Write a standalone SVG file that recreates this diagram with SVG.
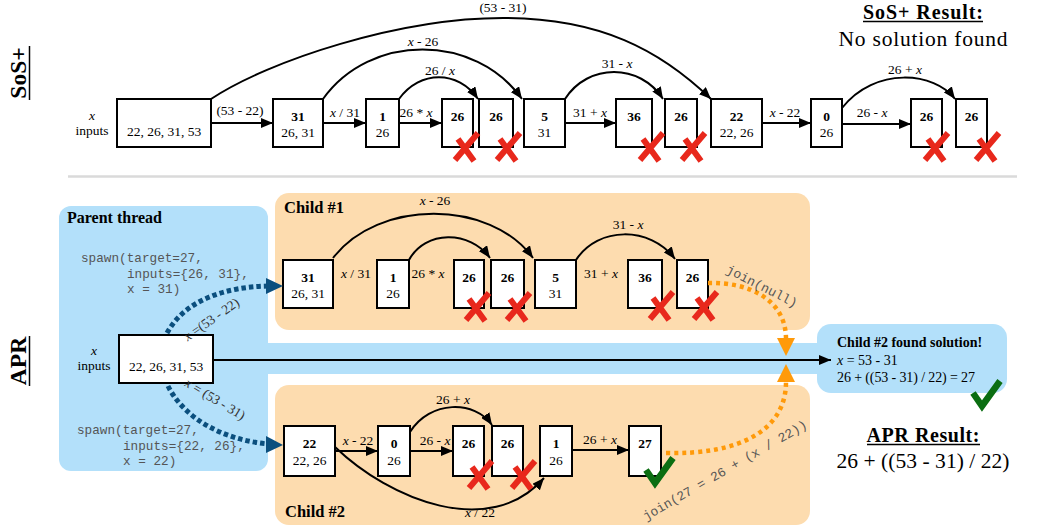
<svg xmlns="http://www.w3.org/2000/svg" width="1042" height="526" viewBox="0 0 1042 526">
<defs>
<style>
.box{fill:#fff;stroke:#000;stroke-width:2}
.t{font-family:"Liberation Serif","Times New Roman",serif;font-size:13.5px;fill:#000;text-anchor:middle}
.b{font-weight:bold}
.i{font-style:italic}
.l{text-anchor:start}
.e{fill:none;stroke:#000;stroke-width:2}
.mono{font-family:"Liberation Mono","Courier New",monospace;font-size:12.7px;fill:#555}
.xm{fill:none;stroke:#e8281c;stroke-width:6}
.ck{fill:none;stroke:#0b6e12;stroke-width:6.5}
.bd{fill:none;stroke:#0b4f7e;stroke-width:5;stroke-dasharray:4.5 3}
.od{fill:none;stroke:#ff9a0a;stroke-width:4.5;stroke-dasharray:4 4}
.blue{fill:#b3e0fa}
.peach{fill:#fddcaf}
.ul{stroke:#000;stroke-width:1.5}
.big{font-size:21.5px}
.hd{font-size:20px}
.side{font-size:23.5px}
.ch{font-size:16.5px}
.rs{font-size:14px}
.jn{font-size:13px;text-anchor:middle}
.gray{fill:#333}
</style>
<marker id="ah" markerWidth="13" markerHeight="10" refX="12" refY="5" orient="auto" markerUnits="userSpaceOnUse"><path d="M0,0 L12,5 L0,10 z" fill="#000"/></marker>
<path id="xmk" d="M-8,-8 L8,14 M12,-14 L-11,13"/>
<path id="ckm" d="M-13,-3 L-4,10 L14,-15"/>
</defs>

<!-- backgrounds -->
<g id="backgrounds">
<line x1="68" y1="176.5" x2="1017" y2="176.5" stroke="#dadada" stroke-width="2.5"/>
<rect class="blue" x="59" y="206" width="209" height="265" rx="12"/>
<rect class="blue" x="262" y="343" width="560" height="31"/>
<rect class="blue" x="817" y="324" width="190" height="69" rx="14"/>
<rect class="peach" x="275" y="193" width="535" height="137" rx="14"/>
<rect class="peach" x="275" y="385" width="535" height="140" rx="14"/>
</g>

<!-- section titles -->
<g id="titles">
<text class="t b side" transform="translate(26,73) rotate(-90)">SoS+</text>
<line class="ul" x1="29.5" y1="46" x2="29.5" y2="100"/>
<text class="t b side" transform="translate(26,361) rotate(-90)">APR</text>
<line class="ul" x1="29.5" y1="336" x2="29.5" y2="386"/>
<text class="t b hd" x="923" y="19" textLength="120" lengthAdjust="spacing">SoS+ Result:</text>
<line class="ul" x1="863" y1="21.5" x2="983" y2="21.5"/>
<text class="t big" x="923" y="46" textLength="169" lengthAdjust="spacing">No solution found</text>
<text class="t b hd" x="923" y="442" textLength="113" lengthAdjust="spacing">APR Result:</text>
<line class="ul" x1="867" y1="444.5" x2="980" y2="444.5"/>
<text class="t big" x="923" y="468" textLength="173" lengthAdjust="spacing">26 + ((53 - 31) / 22)</text>
</g>

<!-- SoS+ nodes -->
<g id="sos-inputs"><rect class="box" x="117" y="99" width="94" height="48"/><text class="t i" x="92" y="120">x</text><text class="t" x="92" y="135">inputs</text><text class="t" x="164" y="136">22, 26, 31, 53</text></g>
<g id="sos-31"><rect class="box" x="273" y="99" width="50" height="48"/><text class="t b" x="298" y="121">31</text><text class="t" x="298" y="137">26, 31</text></g>
<g id="sos-1"><rect class="box" x="366" y="99" width="33" height="48"/><text class="t b" x="382.5" y="121">1</text><text class="t" x="382.5" y="137">26</text></g>
<g id="sos-26a"><rect class="box" x="442" y="99" width="31" height="48"/><text class="t b" x="457.5" y="121">26</text></g>
<g id="sos-26b"><rect class="box" x="479" y="99" width="34" height="48"/><text class="t b" x="496" y="121">26</text></g>
<g id="sos-5"><rect class="box" x="524" y="99" width="41" height="48"/><text class="t b" x="544.5" y="121">5</text><text class="t" x="544.5" y="137">31</text></g>
<g id="sos-36"><rect class="box" x="616" y="99" width="36" height="48"/><text class="t b" x="634" y="121">36</text></g>
<g id="sos-26c"><rect class="box" x="665" y="99" width="32" height="48"/><text class="t b" x="681" y="121">26</text></g>
<g id="sos-22"><rect class="box" x="711" y="99" width="51" height="48"/><text class="t b" x="736.5" y="121">22</text><text class="t" x="736.5" y="137">22, 26</text></g>
<g id="sos-0"><rect class="box" x="811" y="99" width="31" height="48"/><text class="t b" x="826.5" y="121">0</text><text class="t" x="826.5" y="137">26</text></g>
<g id="sos-26d"><rect class="box" x="911" y="99" width="31" height="48"/><text class="t b" x="926.5" y="121">26</text></g>
<g id="sos-26e"><rect class="box" x="956" y="99" width="31" height="48"/><text class="t b" x="971.5" y="121">26</text></g>

<!-- APR parent -->
<g id="parent-thread">
<text class="t b l" style="font-size:16px" x="67" y="223">Parent thread</text>
<text class="mono" x="81" y="262">spawn(target=27,</text>
<text class="mono" x="127" y="278">inputs={26, 31},</text>
<text class="mono" x="127" y="293">x = 31)</text>
<text class="mono" x="77" y="434">spawn(target=27,</text>
<text class="mono" x="123" y="450">inputs={22, 26},</text>
<text class="mono" x="123" y="465">x = 22)</text>
</g>
<g id="apr-inputs"><rect class="box" x="119" y="335" width="94" height="48"/><text class="t i" x="94" y="355">x</text><text class="t" x="94" y="370">inputs</text><text class="t" x="166" y="371">22, 26, 31, 53</text></g>

<!-- Child #1 -->
<g id="child1-label"><text class="t b l ch" x="284" y="213">Child #1</text></g>
<g id="c1-31"><rect class="box" x="283" y="260" width="50" height="48"/><text class="t b" x="308" y="282">31</text><text class="t" x="308" y="298">26, 31</text></g>
<g id="c1-1"><rect class="box" x="377" y="260" width="32" height="48"/><text class="t b" x="393" y="282">1</text><text class="t" x="393" y="298">26</text></g>
<g id="c1-26a"><rect class="box" x="454" y="260" width="30" height="48"/><text class="t b" x="469" y="282">26</text></g>
<g id="c1-26b"><rect class="box" x="491" y="260" width="33" height="48"/><text class="t b" x="507.5" y="282">26</text></g>
<g id="c1-5"><rect class="box" x="535" y="260" width="41" height="48"/><text class="t b" x="555.5" y="282">5</text><text class="t" x="555.5" y="298">31</text></g>
<g id="c1-36"><rect class="box" x="628" y="260" width="34" height="48"/><text class="t b" x="645" y="282">36</text></g>
<g id="c1-26c"><rect class="box" x="677" y="260" width="31" height="48"/><text class="t b" x="692.5" y="282">26</text></g>

<!-- Child #2 -->
<g id="child2-label"><text class="t b l ch" x="285" y="517">Child #2</text></g>
<g id="c2-22"><rect class="box" x="284" y="426" width="51" height="50"/><text class="t b" x="309.5" y="448">22</text><text class="t" x="309.5" y="465">22, 26</text></g>
<g id="c2-0"><rect class="box" x="378" y="426" width="32" height="50"/><text class="t b" x="394" y="448">0</text><text class="t" x="394" y="465">26</text></g>
<g id="c2-26a"><rect class="box" x="453" y="426" width="31" height="50"/><text class="t b" x="468.5" y="448">26</text></g>
<g id="c2-26b"><rect class="box" x="492" y="426" width="31" height="50"/><text class="t b" x="507.5" y="448">26</text></g>
<g id="c2-1"><rect class="box" x="540" y="426" width="32" height="50"/><text class="t b" x="556" y="448">1</text><text class="t" x="556" y="465">26</text></g>
<g id="c2-27"><rect class="box" x="629" y="426" width="32" height="50"/><text class="t b" x="645" y="448">27</text></g>

<!-- Result -->
<g id="result">
<text class="t b l rs" x="837" y="347">Child #2 found solution!</text>
<text class="t l rs" x="837" y="365"><tspan class="i">x</tspan> = 53 - 31</text>
<text class="t l rs" x="837" y="382" textLength="138" lengthAdjust="spacing">26 + ((53 - 31) / 22) = 27</text>
</g>

<!-- connectors -->
<g id="connectors">
<path class="e" marker-end="url(#ah)" d="M211,123 H273"/>
<path class="e" marker-end="url(#ah)" d="M323,123 H366"/>
<path class="e" marker-end="url(#ah)" d="M399,123 H442"/>
<path class="e" marker-end="url(#ah)" d="M565,123 H616"/>
<path class="e" marker-end="url(#ah)" d="M762,123 H811"/>
<path class="e" marker-end="url(#ah)" d="M842,124 H911"/>
<path class="e" marker-end="url(#ah)" d="M211,99 C270,60 400,18 503,18 C600,18 660,50 711,99"/>
<path class="e" marker-end="url(#ah)" d="M323,99 C370,33 475,33 522,99"/>
<path class="e" marker-end="url(#ah)" d="M399,99 C420,70 458,70 478,99"/>
<path class="e" marker-end="url(#ah)" d="M565,99 C588,63 640,63 663,99"/>
<path class="e" marker-end="url(#ah)" d="M842,108 C875,66 935,72 955,99"/>
<text class="t" x="503" y="12">(53 - 31)</text>
<text class="t" x="423" y="46"><tspan class="i">x</tspan> - 26</text>
<text class="t" x="440" y="75">26 / <tspan class="i">x</tspan></text>
<text class="t" x="617" y="68">31 - <tspan class="i">x</tspan></text>
<text class="t" x="905" y="74">26 + <tspan class="i">x</tspan></text>
<text class="t" x="240" y="115">(53 - 22)</text>
<text class="t" x="345" y="117"><tspan class="i">x</tspan> / 31</text>
<text class="t" x="416" y="117">26 * <tspan class="i">x</tspan></text>
<text class="t" x="590" y="117">31 + <tspan class="i">x</tspan></text>
<text class="t" x="785" y="117"><tspan class="i">x</tspan> - 22</text>
<text class="t" x="872" y="117">26 - <tspan class="i">x</tspan></text>

<!-- child 1 -->
<path class="e" marker-end="url(#ah)" d="M333,258 C378,199 490,199 533,258"/>
<path class="e" marker-end="url(#ah)" d="M409,260 C425,230 470,230 490,258"/>
<path class="e" marker-end="url(#ah)" d="M576,260 C598,226 650,226 675,259"/>
<text class="t" x="435" y="205"><tspan class="i">x</tspan> - 26</text>
<text class="t" x="628" y="229">31 - <tspan class="i">x</tspan></text>
<text class="t" x="356" y="278"><tspan class="i">x</tspan> / 31</text>
<text class="t" x="428" y="278">26 * <tspan class="i">x</tspan></text>
<text class="t" x="601" y="278">31 + <tspan class="i">x</tspan></text>

<!-- child 2 -->
<path class="e" marker-end="url(#ah)" d="M335,451 H378"/>
<path class="e" marker-end="url(#ah)" d="M410,451 H453"/>
<path class="e" marker-end="url(#ah)" d="M572,450 H629"/>
<path class="e" marker-end="url(#ah)" d="M410,432 C430,400 475,400 492,425"/>
<path class="e" marker-end="url(#ah)" d="M335,447 C390,500 490,540 544,478"/>
<text class="t" x="358" y="445"><tspan class="i">x</tspan> - 22</text>
<text class="t" x="435" y="445">26 - <tspan class="i">x</tspan></text>
<text class="t" x="453" y="404">26 + <tspan class="i">x</tspan></text>
<text class="t" x="480" y="517"><tspan class="i">x</tspan> / 22</text>
<text class="t" x="600" y="444">26 + <tspan class="i">x</tspan></text>

<!-- main arrow -->
<path class="e" marker-end="url(#ah)" d="M213,360 H831"/>

<!-- spawn arrows -->
<path class="bd" d="M167,333 C185,300 225,287 268,286"/>
<polygon points="266,278 283,286 266,294" fill="#0b4f7e"/>
<path class="bd" d="M168,386 C185,420 225,440 268,444"/>
<polygon points="266,436 283,445 266,453" fill="#0b4f7e"/>
<text class="t gray" transform="translate(214,323) rotate(-35)"><tspan class="i">x</tspan> =(53 - 22)</text>
<text class="t gray" transform="translate(213,403) rotate(31)"><tspan class="i">x</tspan> = (53 - 31)</text>

<!-- join arrows -->
<path class="od" d="M708,283 C750,282 786,300 786,339"/>
<polygon points="777,338 795,338 786,356" fill="#ff9a0a"/>
<path class="od" d="M666,453 C740,455 786,430 786,382"/>
<polygon points="777,382 795,382 786,364" fill="#ff9a0a"/>
<text class="mono jn" transform="translate(760,290) rotate(27)">join(null)</text>
<text class="mono jn" transform="translate(727,474) rotate(-30)">join(27 = 26 + (x / 22))</text>
</g>

<!-- marks -->
<g id="marks">
<use href="#xmk" class="xm" x="466" y="147"/>
<use href="#xmk" class="xm" x="508" y="147"/>
<use href="#xmk" class="xm" x="651" y="147"/>
<use href="#xmk" class="xm" x="693" y="147"/>
<use href="#xmk" class="xm" x="936" y="147"/>
<use href="#xmk" class="xm" x="987" y="147"/>
<use href="#xmk" class="xm" x="477" y="307"/>
<use href="#xmk" class="xm" x="518" y="307"/>
<use href="#xmk" class="xm" x="661" y="306"/>
<use href="#xmk" class="xm" x="705" y="306"/>
<use href="#xmk" class="xm" x="480" y="475"/>
<use href="#xmk" class="xm" x="523" y="475"/>
<use href="#ckm" class="ck" x="659" y="473"/>
<use href="#ckm" class="ck" x="986" y="396"/>
</g>
</svg>
